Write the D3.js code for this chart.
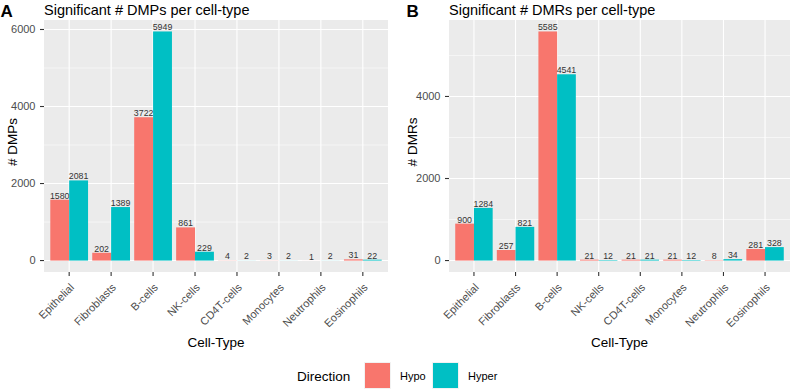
<!DOCTYPE html>
<html><head><meta charset="utf-8">
<script src="https://cdn.jsdelivr.net/npm/d3@7"></script>
<style>
body{margin:0;background:#fff;}
text{font-family:"Liberation Sans",Arial,Helvetica,sans-serif;}
</style></head>
<body><svg id="c" width="794" height="390"></svg>
<script>
const categories = ["Epithelial","Fibroblasts","B-cells","NK-cells","CD4T-cells","Monocytes","Neutrophils","Eosinophils"];
const directions = ["Hypo","Hyper"];
const dmpHypo  = [1580, 202, 3722, 861, 4, 3, 1, 31];
const dmpHyper = [2081, 1389, 5949, 229, 2, 2, 2, 22];
const dmrHypo  = [900, 257, 5585, 21, 21, 21, 8, 281];
const dmrHyper = [1284, 821, 4541, 12, 21, 12, 34, 328];
const dmpTicks = [0, 2000, 4000, 6000];
const dmrTicks = [0, 2000, 4000];
const colors = ["#F8766D", "#00BFC4"];

const svg = d3.select("#c");

function panel(opt){
  const {x0, x1, y0, y1, hypo, hyper, ticks, minor, title, tag, ylab, tagX, ylabX, titleX} = opt;
  const maxV = d3.max(hypo.concat(hyper));
  const pad = maxV * 0.05;
  const y = d3.scaleLinear().domain([-pad, maxV + pad]).range([y1, y0]);
  const unit = (x1 - x0) / (categories.length - 1 + 1.2);
  const xc = d3.scalePoint().domain(categories).range([x0 + 0.6*unit, x1 - 0.6*unit]);
  const g = svg.append("g");
  g.append("rect").attr("x", x0).attr("y", y0).attr("width", x1-x0).attr("height", y1-y0).attr("fill", "#EBEBEB");
  g.selectAll(".mn").data(minor).enter().append("line")
    .attr("x1", x0).attr("x2", x1).attr("y1", d=>y(d)).attr("y2", d=>y(d))
    .attr("stroke", "#fff").attr("stroke-width", 0.55);
  g.selectAll(".mj").data(ticks).enter().append("line")
    .attr("x1", x0).attr("x2", x1).attr("y1", d=>y(d)).attr("y2", d=>y(d))
    .attr("stroke", "#fff").attr("stroke-width", 1.1);
  g.selectAll(".vx").data(categories).enter().append("line")
    .attr("x1", d=>xc(d)).attr("x2", d=>xc(d)).attr("y1", y0).attr("y2", y1)
    .attr("stroke", "#fff").attr("stroke-width", 1.1);
  const bw = unit * 0.45;
  const series = [hypo, hyper];
  series.forEach((vals, si) => {
    g.selectAll(".b"+si).data(vals).enter().append("rect")
      .attr("x", (d,i)=> xc(categories[i]) - bw + si*bw)
      .attr("y", d=> y(d))
      .attr("width", bw)
      .attr("height", d=> y(0) - y(d))
      .attr("fill", colors[si]);
    g.selectAll(".l"+si).data(vals).enter().append("text")
      .attr("x", (d,i)=> xc(categories[i]) - bw/2 + si*bw)
      .attr("y", d=> y(d) - 1)
      .attr("text-anchor", "middle")
      .attr("font-size", 8.8)
      .attr("fill", "#333")
      .text(d=>d);
  });
  const ya = g.append("g");
  ticks.forEach(t => {
    ya.append("line").attr("x1", x0-4).attr("x2", x0).attr("y1", y(t)).attr("y2", y(t)).attr("stroke", "#333").attr("stroke-width", 1.1);
    ya.append("text").attr("x", x0-8.5).attr("y", y(t)).attr("dy", "0.35em").attr("text-anchor", "end")
      .attr("font-size", 11).attr("fill", "#4D4D4D").text(t);
  });
  categories.forEach(c => {
    g.append("line").attr("x1", xc(c)).attr("x2", xc(c)).attr("y1", y1).attr("y2", y1+4).attr("stroke", "#333").attr("stroke-width", 1.1);
    g.append("text").attr("transform", `translate(${xc(c)},${y1+10.5}) rotate(-45)`)
      .attr("text-anchor", "end").attr("dy", "0.72em").attr("font-size", 11).attr("fill", "#4D4D4D").text(c);
  });
  g.append("text").attr("x", (x0+x1)/2).attr("y", 347).attr("text-anchor", "middle").attr("font-size", 13.5).attr("fill", "#000").text("Cell-Type");
  g.append("text").attr("transform", `translate(${ylabX},${(y0+y1)/2 - 4}) rotate(-90)`).attr("dy", "0.35em").attr("text-anchor", "middle").attr("font-size", 13.5).attr("fill", "#000").text(ylab);
  g.append("text").attr("x", titleX).attr("y", 15).attr("font-size", 14.5).attr("fill", "#000").text(title);
  g.append("text").attr("x", tagX).attr("y", 16.7).attr("font-size", 17).attr("font-weight", "bold").attr("fill", "#000").text(tag);
}

panel({x0:44, x1:388, y0:20, y1:272, hypo:dmpHypo, hyper:dmpHyper, ticks:dmpTicks, minor:[1000,3000,5000],
  title:"Significant # DMPs per cell-type", tag:"A", ylab:"# DMPs", tagX:0.5, ylabX:12.5, titleX:44});
panel({x0:449, x1:790, y0:20, y1:272, hypo:dmrHypo, hyper:dmrHyper, ticks:dmrTicks, minor:[1000,3000,5000],
  title:"Significant # DMRs per cell-type", tag:"B", ylab:"# DMRs", tagX:406.5, ylabX:412, titleX:449});

const lg = svg.append("g");
lg.append("text").attr("x", 297).attr("y", 376).attr("dy", "0.35em").attr("font-size", 13.5).attr("fill", "#000").text("Direction");
const keyX = [364, 432];
directions.forEach((d,i) => {
  lg.append("rect").attr("x", keyX[i]).attr("y", 362).attr("width", 27).attr("height", 27).attr("fill", "#F2F2F2");
  lg.append("rect").attr("x", keyX[i]+1).attr("y", 363).attr("width", 25).attr("height", 25).attr("fill", colors[i]);
  lg.append("text").attr("x", keyX[i]+36).attr("y", 376).attr("dy", "0.35em").attr("font-size", 11).attr("fill", "#000").text(d);
});
</script></body></html>
